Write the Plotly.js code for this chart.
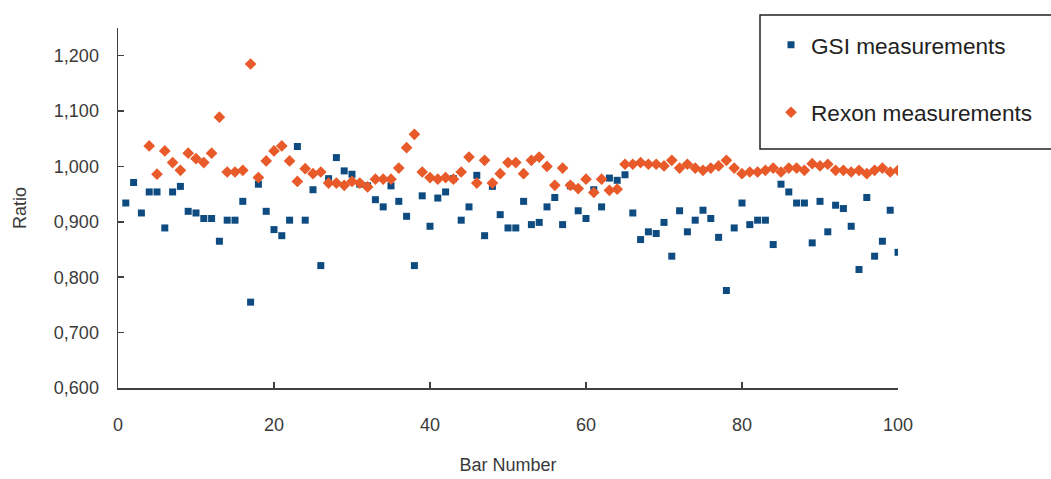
<!DOCTYPE html>
<html>
<head>
<meta charset="utf-8">
<script src="https://cdn.plot.ly/plotly-3.0.1.min.js"></script>
<style>html,body{margin:0;padding:0;background:#fff;}#chart{width:1051px;height:479px;}</style>
</head>
<body>
<div id="chart"></div>
<script>
// Bar numbers
const gsiBars = Array.from({length: 100}, (_, i) => i + 1);
const gsiRatio = [
  0.934, 0.971, 0.916, 0.954, 0.954, 0.889, 0.954, 0.964, 0.919, 0.916,
  0.906, 0.906, 0.865, 0.903, 0.903, 0.937, 0.755, 0.968, 0.919, 0.886,
  0.875, 0.903, 1.036, 0.903, 0.958, 0.821, 0.978, 1.016, 0.992, 0.986,
  0.968, 0.965, 0.940, 0.927, 0.965, 0.937, 0.910, 0.821, 0.947, 0.892,
  0.943, 0.954, 0.978, 0.903, 0.927, 0.984, 0.875, 0.964, 0.913, 0.889,
  0.889, 0.937, 0.895, 0.899, 0.927, 0.944, 0.895, 0.965, 0.920, 0.906,
  0.958, 0.927, 0.979, 0.975, 0.985, 0.916, 0.868, 0.882, 0.879, 0.899,
  0.838, 0.920, 0.882, 0.903, 0.921, 0.906, 0.872, 0.776, 0.889, 0.934,
  0.895, 0.903, 0.903, 0.859, 0.968, 0.954, 0.934, 0.934, 0.862, 0.937,
  0.882, 0.930, 0.924, 0.892, 0.814, 0.944, 0.838, 0.865, 0.921, 0.845
];
const rexonBars = Array.from({length: 97}, (_, i) => i + 4);
const rexonRatio = [
  1.037, 0.986, 1.028, 1.007, 0.993, 1.024, 1.014, 1.007, 1.024, 1.089,
  0.990, 0.990, 0.993, 1.185, 0.980, 1.010, 1.028, 1.037, 1.010, 0.973,
  0.996, 0.987, 0.990, 0.970, 0.970, 0.966, 0.973, 0.970, 0.963, 0.977,
  0.977, 0.977, 0.997, 1.034, 1.058, 0.990, 0.980, 0.977, 0.980, 0.977,
  0.990, 1.017, 0.970, 1.011, 0.970, 0.987, 1.007, 1.007, 0.987, 1.011,
  1.017, 1.000, 0.966, 0.997, 0.966, 0.960, 0.977, 0.953, 0.977, 0.957,
  0.959, 1.004, 1.004, 1.007, 1.004, 1.004, 1.001, 1.011, 0.997, 1.004,
  0.997, 0.993, 0.997, 1.001, 1.011, 0.997, 0.987, 0.990, 0.990, 0.993,
  0.997, 0.990, 0.997, 0.997, 0.993, 1.005, 1.001, 1.004, 0.993, 0.993,
  0.990, 0.993, 0.987, 0.993, 0.997, 0.990, 0.993
];
const xTicks = [0, 20, 40, 60, 80, 100];
const yTicks = [0.6, 0.7, 0.8, 0.9, 1.0, 1.1, 1.2];

const FONT = 'Liberation Sans, Arial, sans-serif';
const TXT = '#3a3a3a';

const traces = [
  {
    x: gsiBars, y: gsiRatio, type: 'scatter', mode: 'markers',
    name: 'GSI measurements', legendgroup: 'g1',
    marker: {symbol: 'square', size: 7, color: '#0d4b80'}
  },
  {
    x: rexonBars, y: rexonRatio, type: 'scatter', mode: 'markers',
    name: 'Rexon measurements', legendgroup: 'g2',
    marker: {symbol: 'diamond', size: 9, color: '#e85a2a'}
  }
];

const layout = {
  width: 1051, height: 479,
  margin: {l: 118, r: 153, t: 28, b: 91},
  paper_bgcolor: '#fff', plot_bgcolor: '#fff',
  separators: ',.',
  font: {family: FONT, color: TXT, size: 17},
  showlegend: true,
  legend: {
    x: (771 - 118) / 780, y: 1.012, xanchor: 'left', yanchor: 'top',
    bgcolor: 'rgba(0,0,0,0)', borderwidth: 0,
    traceorder: 'grouped', tracegroupgap: 35,
    font: {family: FONT, size: 22.6, color: '#222'},
    itemwidth: 30
  },
  xaxis: {
    range: [0, 100], tickvals: xTicks, ticktext: xTicks.map(String),
    showgrid: false, zeroline: false, automargin: false,
    showline: true, linecolor: '#404040', linewidth: 1.5,
    ticks: 'inside', ticklen: 6, tickwidth: 1.5, tickcolor: '#404040',
    ticklabelstandoff: 20,
    tickfont: {family: FONT, size: 18, color: TXT},
    title: {text: 'Bar Number', font: {family: FONT, size: 18, color: TXT}, standoff: 24}
  },
  yaxis: {
    range: [0.6, 1.25], tickvals: yTicks, tickformat: '.3f',
    showgrid: false, zeroline: false, automargin: false,
    showline: true, linecolor: '#404040', linewidth: 1.5,
    ticks: 'inside', ticklen: 6, tickwidth: 1.5, tickcolor: '#404040',
    ticklabelstandoff: 14,
    tickfont: {family: FONT, size: 18, color: TXT},
    title: {text: 'Ratio', font: {family: FONT, size: 18, color: TXT}, standoff: 22}
  },
  shapes: [
    {type: 'rect', xref: 'paper', yref: 'paper',
     x0: (760 - 118) / 780, x1: (1056 - 118) / 780,
     y0: 1 - (149 - 28) / 360, y1: 1 + (28 - 15) / 360,
     line: {color: '#222', width: 1.5}, fillcolor: 'rgba(0,0,0,0)'}
  ]
};

Plotly.newPlot('chart', traces, layout, {displayModeBar: false, staticPlot: true});
</script>
</body>
</html>
